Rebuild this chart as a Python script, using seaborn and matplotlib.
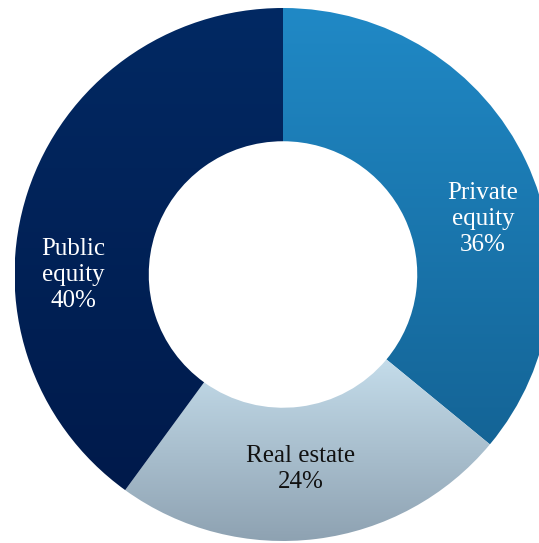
import numpy as np
import matplotlib
matplotlib.use("Agg")
import matplotlib.pyplot as plt
import seaborn as sns

# Portfolio allocation
categories = ["Private equity", "Real estate", "Public equity"]
shares = [36, 24, 40]
label_lines = ["Private\nequity", "Real estate", "Public\nequity"]

# top / bottom colours of each segment's vertical gradient
top_colors = ["#2089c6", "#c4dcea", "#022963"]
bottom_colors = ["#146496", "#8ea2b2", "#001a4b"]
text_colors = ["white", "#111111", "white"]

sns.set_theme(style="white")
plt.rcParams["font.family"] = ["Liberation Serif", "DejaVu Serif"]

W, H = 539, 543
fig = plt.figure(figsize=(W / 100, H / 100), dpi=100)
cx, cy, rx, ry = 283, 274.5, 268.5, 266.5
ax = fig.add_axes([(cx - rx) / W, (H - cy - ry) / H, 2 * rx / W, 2 * ry / H])
ax.set_xlim(-1, 1)
ax.set_ylim(-1, 1)
ax.axis("off")

wedges, _ = ax.pie(
    shares, startangle=90, counterclock=False, radius=1,
    wedgeprops=dict(width=0.5, linewidth=0),
)
ax.set_aspect("auto")

for w, c0, c1 in zip(wedges, top_colors, bottom_colors):
    w.set_facecolor("none")
    bb = w.get_path().get_extents(w.get_patch_transform())
    cmap = sns.blend_palette([c0, c1], as_cmap=True)
    grad = np.linspace(0, 1, 256).reshape(-1, 1)
    im = ax.imshow(grad, cmap=cmap, aspect="auto",
                   extent=(bb.x0, bb.x1, bb.y0, bb.y1), origin="upper",
                   zorder=1, interpolation="bilinear")
    im.set_clip_path(w)
ax.set_xlim(-1, 1)
ax.set_ylim(-1, 1)

def to_data(px, py):
    return (px - cx) / rx, (cy - py) / ry

label_pos = [(483, 219), (301, 469), (73, 275)]
for name, pct, (px, py), tc in zip(label_lines, shares, label_pos, text_colors):
    x, y = to_data(px, py)
    ax.text(x, y, f"{name}\n{pct}%", ha="center", va="center", color=tc,
            fontsize=18, linespacing=1.25, zorder=5)

fig.savefig("out.png", dpi=100)
